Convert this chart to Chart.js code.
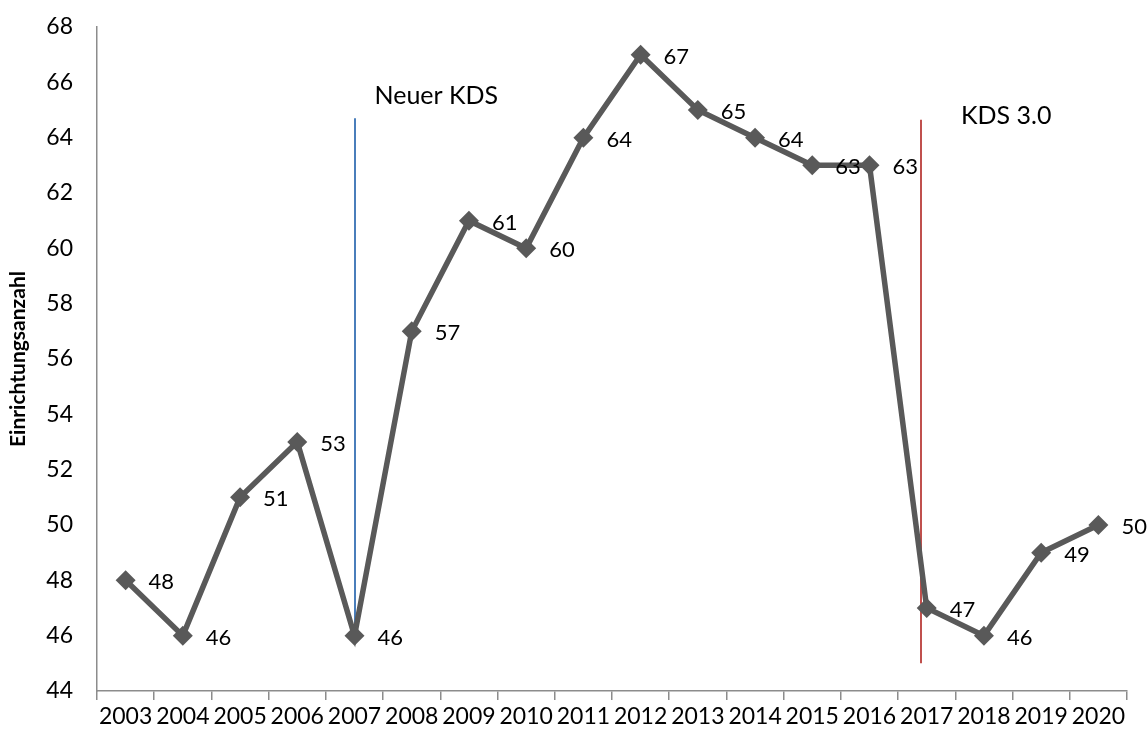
<!DOCTYPE html>
<html>
<head>
<meta charset="utf-8">
<script src="https://cdn.jsdelivr.net/npm/chart.js@4/dist/chart.umd.min.js"></script>
<style>
  html, body { margin: 0; padding: 0; background: #fff; }
  #chart { display: block; }
</style>
</head>
<body>
<canvas id="chart" width="1147" height="735"></canvas>
<script>
// --- Datos ---
const years = ['2003', '2004', '2005', '2006', '2007', '2008', '2009', '2010', '2011',
    '2012', '2013', '2014', '2015', '2016', '2017', '2018', '2019', '2020'];
const counts = [48, 46, 51, 53, 46, 57, 61, 60, 64, 67, 65, 64, 63, 63, 47, 46, 49, 50];

// Marcas verticales: posición (índice de categoría) y rango de valores
const markerNames = ['Neuer KDS', 'KDS 3.0'];
const markerPos = [4, 13.9];
const markerFrom = [46, 45];
const markerTo = [64.7, 64.65];
const markerTextY = [65.5, 64.8];
const markerColors = ['#4a7ebb', '#c0504d'];

const FONT = 'Lato, "Liberation Sans", sans-serif';

// Plugin para las líneas verticales, sus textos y las etiquetas de datos
const overlayPlugin = {
    id: 'overlay',
    beforeDatasetsDraw(chart) {
        const { ctx, scales: { x, y } } = chart;
        ctx.save();
        markerPos.forEach((pos, i) => {
            const px = Math.round(x.getPixelForValue(pos));
            ctx.strokeStyle = markerColors[i];
            ctx.lineWidth = 2;
            ctx.beginPath();
            ctx.moveTo(px, y.getPixelForValue(markerTo[i]));
            ctx.lineTo(px, y.getPixelForValue(markerFrom[i]));
            ctx.stroke();
        });
        ctx.restore();
    },
    afterDatasetsDraw(chart) {
        const { ctx, scales: { x, y } } = chart;
        ctx.save();
        ctx.fillStyle = '#000';
        ctx.textBaseline = 'middle';
        ctx.textAlign = 'left';
        ctx.font = '25px ' + FONT;
        markerNames.forEach((name, i) => {
            ctx.fillText(name, x.getPixelForValue(markerPos[i]) + 20 + (i ? 20 : 0),
                y.getPixelForValue(markerTextY[i]));
        });
        ctx.font = '22px ' + FONT;
        const meta = chart.getDatasetMeta(0);
        meta.data.forEach((pt, i) => {
            ctx.fillText(String(counts[i]), pt.x + 23, pt.y + 2);
        });
        ctx.restore();
    }
};

new Chart(document.getElementById('chart'), {
    type: 'line',
    data: {
        labels: years,
        datasets: [{
            data: counts,
            borderColor: '#595959',
            backgroundColor: '#595959',
            borderWidth: 5.5,
            pointStyle: 'rectRot',
            pointRadius: 10,
            pointHoverRadius: 10,
            pointBorderWidth: 0,
            tension: 0
        }]
    },
    options: {
        responsive: false,
        animation: false,
        events: [],
        layout: { autoPadding: false, padding: { top: 27, right: 20, left: 6, bottom: 0 } },
        plugins: {
            legend: { display: false },
            tooltip: { enabled: false }
        },
        scales: {
            x: {
                offset: true,
                grid: {
                    offset: true,
                    drawOnChartArea: false,
                    drawTicks: true,
                    tickLength: 9,
                    color: '#8c8c8c',
                    lineWidth: 1.5
                },
                border: { color: '#8c8c8c', width: 1.5 },
                ticks: {
                    color: '#000',
                    font: { size: 23, family: FONT },
                    maxRotation: 0,
                    autoSkip: false,
                    padding: 3
                },
                afterFit(scale) { scale.height = 44; }
            },
            y: {
                min: 44,
                max: 68,
                grid: { display: false, drawTicks: false },
                border: { color: '#8c8c8c', width: 1.5 },
                ticks: {
                    stepSize: 2,
                    color: '#000',
                    font: { size: 23, family: FONT },
                    padding: 24
                },
                title: {
                    display: true,
                    text: 'Einrichtungsanzahl',
                    color: '#000',
                    font: { size: 21, weight: 'bold', family: FONT },
                    padding: { top: 0, bottom: 0 }
                },
                afterFit(scale) {
                    scale.width = 91;
                    scale.paddingTop = 0;
                    scale.paddingBottom = 0;
                }
            }
        }
    },
    plugins: [overlayPlugin]
});
</script>
</body>
</html>
